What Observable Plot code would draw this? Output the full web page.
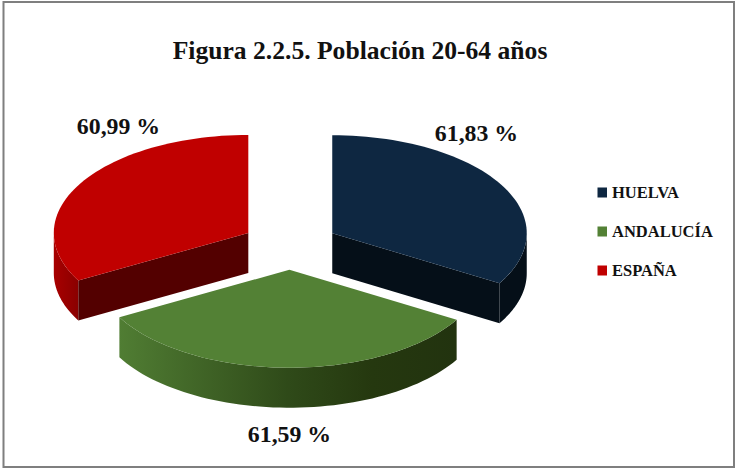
<!DOCTYPE html>
<html>
<head>
<meta charset="utf-8">
<script src="https://cdn.jsdelivr.net/npm/d3@7"></script>
<script src="https://cdn.jsdelivr.net/npm/@observablehq/plot@0.6"></script>
<style>html,body{margin:0;padding:0;background:#fff}svg{display:block}</style>
</head>
<body>
<div id="chart"></div>
<script>
const titleText = "Figura 2.2.5. Población 20-64 años";
const categories = ["HUELVA", "ANDALUCÍA", "ESPAÑA"];
const values = [61.83, 61.59, 60.99];
const topColors = ["#0e2741", "#538135", "#c00000"];
const cutColors = ["#050f18", "#22330f", "#530000"];

// pie geometry
const W = 736, H = 470, CX = 289.6, CY = 244.8, RX = 194.5, RY = 98, DEPTH = 40, EXPLODE = 48.5;
const total = d3.sum(values);
let acc = 0;
const slices = values.map((v, i) => {
  const a0 = acc / total * 2 * Math.PI; acc += v;
  const a1 = acc / total * 2 * Math.PI;
  const mid = (a0 + a1) / 2;
  return {i, a0, a1, cx: CX + EXPLODE * Math.sin(mid), cy: CY - EXPLODE * (RY / RX) * Math.cos(mid)};
});
const pt = (s, a, dz = 0) => ({x: s.cx + RX * Math.sin(a), y: s.cy - RY * Math.cos(a) + dz});
const arc = (s, a0, a1, dz = 0) => d3.range(0, 61).map(k => pt(s, a0 + (a1 - a0) * k / 60, dz));
const tip = (s, dz = 0) => ({x: s.cx, y: s.cy + dz});

const poly = (id, pts) => pts.map(p => ({...p, id}));
const face = s => poly("top" + s.i, [tip(s), ...arc(s, s.a0, s.a1)]);
const wall = (s, a0, a1) => poly("wall" + s.i, [...arc(s, a0, a1), ...arc(s, a0, a1, DEPTH).reverse()]);
const cut = (s, a) => poly("cut" + s.i, [tip(s), pt(s, a), pt(s, a, DEPTH), tip(s, DEPTH)]);

const [blue, green, red] = slices;
const shape = (pts, fill) => Plot.line(pts, {x: "x", y: "y", fill, stroke: "none", curve: "linear-closed"});

const gradient = (id, stops) => () => {
  const svgNS = "http://www.w3.org/2000/svg";
  const g = document.createElementNS(svgNS, "g");
  const defs = document.createElementNS(svgNS, "defs");
  const lg = document.createElementNS(svgNS, "linearGradient");
  lg.setAttribute("id", id);
  stops.forEach(([o, c]) => {
    const st = document.createElementNS(svgNS, "stop");
    st.setAttribute("offset", o); st.setAttribute("stop-color", c);
    lg.appendChild(st);
  });
  defs.appendChild(lg); g.appendChild(defs);
  return g;
};

const fmt = v => v.toFixed(2).replace(".", ",") + " %";
const labelPos = [{x: 476, y: 133}, {x: 289, y: 434}, {x: 118, y: 126}];
const labels = values.map((v, i) => ({...labelPos[i], t: fmt(v)}));
const legendY = [192.5, 231.5, 270.5];
const legend = categories.map((c, i) => ({c, i, y: legendY[i]}));
const font = "'Liberation Serif', serif";

const chart = Plot.plot({
  width: W, height: H, margin: 0,
  style: {background: "#fff"},
  x: {domain: [0, W], range: [0, W], axis: null},
  y: {domain: [0, H], range: [0, H], axis: null},
  marks: [
    Plot.rect([0], {x1: () => 3.5, x2: () => 734, y1: () => 2, y2: () => 467, fill: "#fff", stroke: "#7f7f7f", strokeWidth: 2}),
    gradient("gGreen", [[0, "#507d33"], [0.5, "#2f4a19"], [0.75, "#25380f"], [1, "#22330f"]]),
    gradient("gRed", [[0, "#a80000"], [1, "#8a0000"]]),
    shape(wall(red, red.a0, 1.5 * Math.PI), "url(#gRed)"),
    shape(cut(red, red.a0), cutColors[2]),
    shape(face(red), topColors[2]),
    shape(wall(blue, 0.5 * Math.PI, blue.a1), cutColors[0]),
    shape(cut(blue, blue.a1), cutColors[0]),
    shape(face(blue), topColors[0]),
    shape(wall(green, green.a0, green.a1), "url(#gGreen)"),
    shape(face(green), topColors[1]),
    Plot.text([titleText], {x: () => 359.5, y: () => 50, text: d => d, fontFamily: font, fontWeight: "bold", fontSize: 25.6, fill: "#111", textAnchor: "middle"}),
    Plot.text(labels, {x: "x", y: "y", text: "t", fontFamily: font, fontWeight: "bold", fontSize: 23.8, fill: "#111", textAnchor: "middle"}),
    Plot.rect(legend, {x1: () => 597.5, x2: () => 607, y1: d => d.y - 5, y2: d => d.y + 5, fill: d => topColors[d.i]}),
    Plot.text(legend, {x: () => 611.5, y: "y", text: "c", fontFamily: font, fontWeight: "bold", fontSize: 16.5, fill: "#111", textAnchor: "start"})
  ]
});
document.getElementById("chart").appendChild(chart);
</script>
</body>
</html>
